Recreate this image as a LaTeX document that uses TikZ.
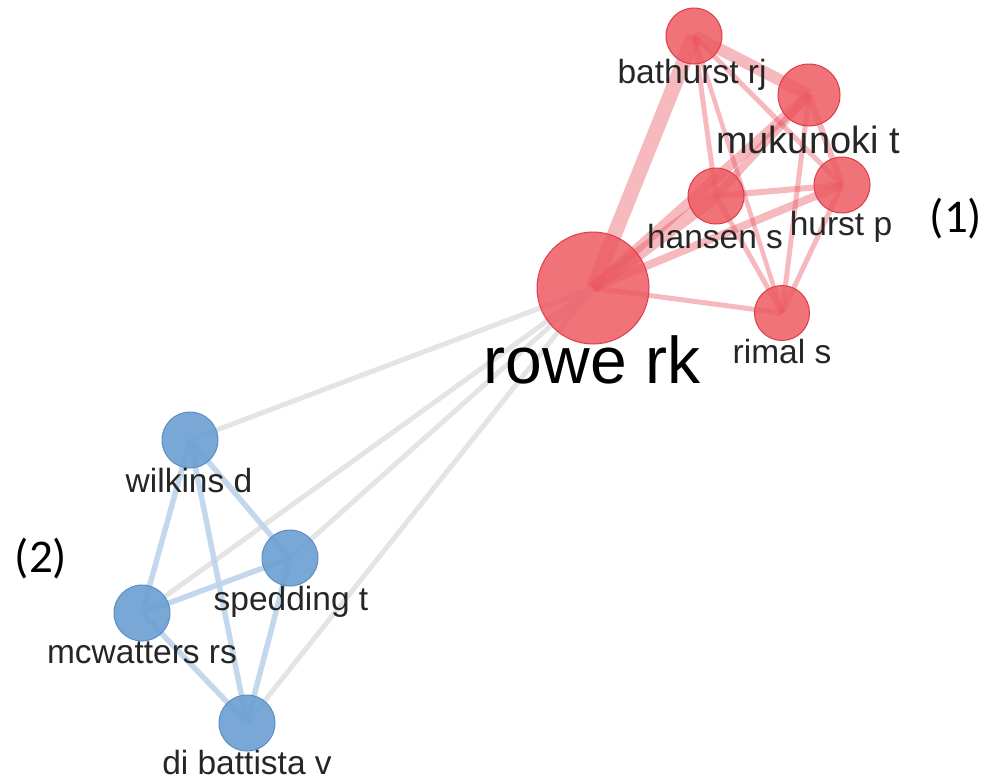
\documentclass[tikz,border=0pt]{standalone}
\usepackage{fontspec}
\setmainfont{Liberation Sans}
\newfontfamily\calfont{Carlito}
\definecolor{rednode}{HTML}{EC5A62}
\definecolor{redline}{HTML}{DE3C48}
\definecolor{rededge}{HTML}{E8505A}
\definecolor{bluenode}{HTML}{6A9FD2}
\definecolor{blueline}{HTML}{5A8EC2}
\definecolor{blueedge}{HTML}{BCD4EA}
\definecolor{grayedge}{HTML}{E4E4E4}
\definecolor{labelcol}{HTML}{262626}
\tikzset{
  rnode/.style={circle, inner sep=0pt, fill=rednode, fill opacity=0.85, draw=redline, line width=1pt},
  bnode/.style={circle, inner sep=0pt, fill=bluenode, fill opacity=0.9, draw=blueline, line width=1pt},
  redge/.style={draw=rededge, draw opacity=0.4, line cap=butt},
  bedge/.style={draw=blueedge, line width=5.5pt, draw opacity=0.9},
  gedge/.style={draw=grayedge, line width=5pt},
  lab/.style={anchor=base, text=labelcol, inner sep=0pt, font=\fontsize{33.5}{36}\selectfont},
  numlab/.style={anchor=base, text=black, inner sep=0pt, font=\calfont\fontsize{47}{50}\selectfont}
}
\begin{document}
\begin{tikzpicture}[x=1pt,y=-1pt]
\useasboundingbox (0,0) rectangle (990,780);
% coordinates of node centres
\coordinate (cRowe) at (593,288);
\coordinate (cBath) at (694,36);
\coordinate (cMuku) at (809,95);
\coordinate (cHans) at (716,196);
\coordinate (cHurst) at (842,185);
\coordinate (cRimal) at (782,313);
\coordinate (cWilk) at (190,440);
\coordinate (cSped) at (290,558);
\coordinate (cMcw) at (142,613);
\coordinate (cDib) at (247,723);
% gray edges
\draw[gedge] (cRowe) -- (cWilk);
\draw[gedge] (cRowe) -- (cMcw);
\draw[gedge] (cRowe) -- (cSped);
\draw[gedge] (cRowe) -- (cDib);
% blue edges
\draw[bedge] (cWilk) -- (cMcw);
\draw[bedge] (cWilk) -- (cSped);
\draw[bedge] (cWilk) -- (cDib);
\draw[bedge] (cMcw) -- (cSped);
\draw[bedge] (cMcw) -- (cDib);
\draw[bedge] (cSped) -- (cDib);
% red edges
\draw[redge, line width=15pt] (cRowe) -- (cBath);
\draw[redge, line width=10pt] (cRowe) -- (cMuku);
\draw[redge, line width=13pt] (cRowe) -- (cHans);
\draw[redge, line width=8pt] (cRowe) -- (cHurst);
\draw[redge, line width=5pt] (cRowe) -- (cRimal);
\draw[redge, line width=12pt] (cBath) -- (cMuku);
\draw[redge, line width=5pt] (cBath) -- (cHans);
\draw[redge, line width=5pt] (cBath) -- (cHurst);
\draw[redge, line width=4.5pt] (cBath) -- (cRimal);
\draw[redge, line width=8pt] (cMuku) -- (cHans);
\draw[redge, line width=6pt] (cMuku) -- (cHurst);
\draw[redge, line width=5pt] (cMuku) -- (cRimal);
\draw[redge, line width=6pt] (cHans) -- (cHurst);
\draw[redge, line width=5pt] (cHans) -- (cRimal);
\draw[redge, line width=5pt] (cHurst) -- (cRimal);
% nodes
\node[rnode, minimum size=112pt] (rowe) at (cRowe) {};
\node[rnode, minimum size=56pt] (bath) at (cBath) {};
\node[rnode, minimum size=62pt] (muku) at (cMuku) {};
\node[rnode, minimum size=56pt] (hans) at (cHans) {};
\node[rnode, minimum size=56pt] (hurst) at (cHurst) {};
\node[rnode, minimum size=55pt] (rimal) at (cRimal) {};
\node[bnode, minimum size=56pt] (wilk) at (cWilk) {};
\node[bnode, minimum size=56pt] (sped) at (cSped) {};
\node[bnode, minimum size=56pt] (mcw) at (cMcw) {};
\node[bnode, minimum size=56pt] (dib) at (cDib) {};
% labels
\node[lab] (lbath) at (692,83) {bathurst rj};
\node[lab, font=\fontsize{38}{40}\selectfont] (lmuku) at (808,153) {mukunoki t};
\node[lab] (lhans) at (715,248) {hansen s};
\node[lab] (lhurst) at (841,235) {hurst p};
\node[lab] (lrimal) at (782,363) {rimal s};
\node[lab, text=black, font=\fontsize{66}{70}\selectfont] (lrowe) at (592,383) {rowe rk};
\node[lab] (lwilk) at (189,492) {wilkins d};
\node[lab] (lsped) at (291,610) {spedding t};
\node[lab] (lmcw) at (142,663) {mcwatters rs};
\node[lab] (ldib) at (247,774) {di battista v};
\node[numlab] (one) at (956,232) {(1)};
\node[numlab] (two) at (41,572) {(2)};
\end{tikzpicture}
\end{document}
